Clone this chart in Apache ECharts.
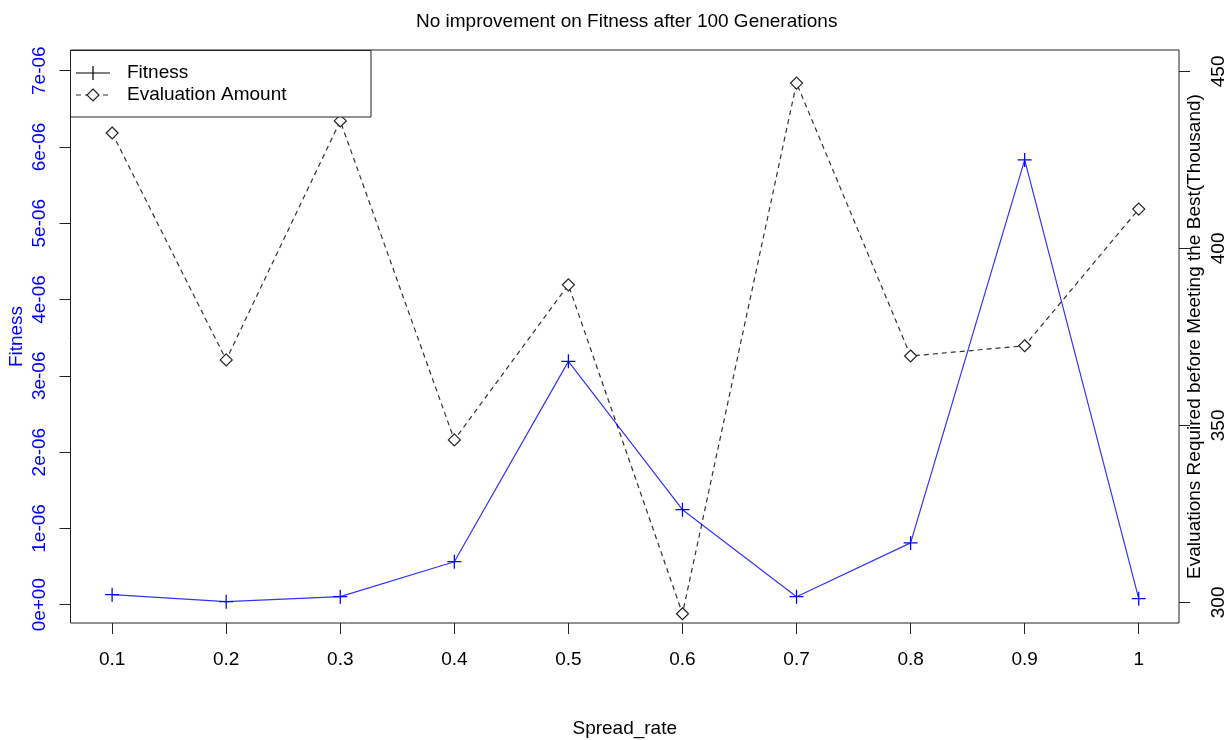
<!DOCTYPE html>
<html>
<head>
<meta charset="utf-8">
<script src="https://cdn.jsdelivr.net/npm/echarts@6/dist/echarts.min.js"></script>
<style>
html,body{margin:0;padding:0;background:#fff;}
#chart{width:1230px;height:740px;}
</style>
</head>
<body>
<div id="chart"></div>
<script>
const spreadRate = [0.1, 0.2, 0.3, 0.4, 0.5, 0.6, 0.7, 0.8, 0.9, 1.0];
const xTickLabels = ['0.1','0.2','0.3','0.4','0.5','0.6','0.7','0.8','0.9','1'];
const fitness = [0.131e-6, 0.04e-6, 0.105e-6, 0.563e-6, 3.19e-6, 1.245e-6, 0.105e-6, 0.81e-6, 5.83e-6, 0.079e-6];
const evaluations = [432.6, 368.5, 436.0, 345.9, 389.7, 296.8, 446.7, 369.6, 372.5, 411.1];
const fitnessTicks = [0, 1e-6, 2e-6, 3e-6, 4e-6, 5e-6, 6e-6, 7e-6];
const fitnessTickLabels = ['0e+00','1e-06','2e-06','3e-06','4e-06','5e-06','6e-06','7e-06'];
const evalTicks = [300, 350, 400, 450];
const evalTickLabels = ['300','350','400','450'];

const FONT = '"Liberation Sans", Arial, sans-serif';
const FS = 19;
const BLUE = '#0000ff';
const plusPath = 'path://M-1,-0.09L1,-0.09L1,0.09L-1,0.09Z M-0.09,-1L0.09,-1L0.09,1L-0.09,1Z';

const chart = echarts.init(document.getElementById('chart'), null, {renderer: 'canvas'});

function labelFromTicks(ticks, labels) {
  return function (v) {
    for (let i = 0; i < ticks.length; i++) {
      if (Math.abs(ticks[i] - v) <= Math.abs(ticks[i]) * 1e-6 + 1e-12) return labels[i];
    }
    return '';
  };
}

const option = {
  backgroundColor: '#ffffff',
  animation: false,
  title: {
    text: 'No improvement on Fitness after 100 Generations',
    left: 411,
    top: 7,
    textStyle: {fontFamily: FONT, fontSize: FS, fontWeight: 'normal', color: '#000'}
  },
  grid: {
    left: 70.5, right: 51, top: 50, bottom: 117,
    show: true, borderColor: '#222', borderWidth: 1, backgroundColor: 'transparent',
    containLabel: false,
    outerBoundsMode: 'none'
  },
  xAxis: {
    type: 'value',
    min: 0.0635, max: 1.0353,
    name: 'Spread_rate',
    nameLocation: 'middle',
    nameGap: 96,
    nameMoveOverlap: false,
    nameTextStyle: {fontFamily: FONT, fontSize: FS, color: '#000'},
    axisLine: {show: false, onZero: false},
    splitLine: {show: false},
    axisTick: {show: true, length: 11, customValues: spreadRate, lineStyle: {color: '#222'}},
    axisLabel: {
      show: true, margin: 27, customValues: spreadRate,
      fontFamily: FONT, fontSize: FS, color: '#000',
      formatter: labelFromTicks(spreadRate, xTickLabels)
    }
  },
  yAxis: [
    {
      type: 'value',
      position: 'left',
      min: -0.24e-6, max: 7.271e-6,
      name: 'Fitness',
      nameLocation: 'middle',
      nameRotate: 90,
      nameGap: 44,
      nameMoveOverlap: false,
      nameTextStyle: {fontFamily: FONT, fontSize: FS, color: BLUE},
      axisLine: {show: false, onZero: false},
      splitLine: {show: false},
      axisTick: {show: true, length: 11, customValues: fitnessTicks, lineStyle: {color: '#222'}},
      axisLabel: {
        show: true, rotate: 90, margin: 21, customValues: fitnessTicks,
        fontFamily: FONT, fontSize: FS, color: BLUE,
        formatter: labelFromTicks(fitnessTicks, fitnessTickLabels)
      }
    },
    {
      type: 'value',
      position: 'right',
      min: 294.18, max: 456.04,
      name: 'Evaluations Required before Meeting the Best(Thousand)',
      nameLocation: 'middle',
      nameRotate: 90,
      nameGap: 6,
      nameMoveOverlap: false,
      nameTextStyle: {fontFamily: FONT, fontSize: FS, color: '#000'},
      axisLine: {show: false, onZero: false},
      splitLine: {show: false},
      axisTick: {show: true, length: 11, customValues: evalTicks, lineStyle: {color: '#222'}},
      axisLabel: {
        show: true, rotate: 90, margin: 30, customValues: evalTicks,
        fontFamily: FONT, fontSize: FS, color: '#000',
        formatter: labelFromTicks(evalTicks, evalTickLabels)
      }
    }
  ],
  series: [
    {
      name: 'Evaluation Amount',
      type: 'line',
      yAxisIndex: 1,
      data: spreadRate.map((x, i) => [x, evaluations[i]]),
      symbol: 'diamond',
      symbolSize: 12,
      lineStyle: {color: '#333', width: 1.2, type: [5, 4]},
      itemStyle: {color: '#fff', borderColor: '#222', borderWidth: 1.2},
      z: 2
    },
    {
      name: 'Fitness',
      type: 'line',
      yAxisIndex: 0,
      data: spreadRate.map((x, i) => [x, fitness[i]]),
      symbol: plusPath,
      symbolSize: 14,
      lineStyle: {color: BLUE, width: 1.2, opacity: 0.8},
      itemStyle: {color: BLUE, borderWidth: 0},
      z: 3
    }
  ],
  graphic: [
    {type: 'rect', z: 100, shape: {x: 70.5, y: 50.5, width: 300.5, height: 66.5},
      style: {fill: '#fff', stroke: '#222', lineWidth: 1}},
    {type: 'line', z: 101, shape: {x1: 76, y1: 73, x2: 110, y2: 73}, style: {stroke: '#000', lineWidth: 1.2}},
    {type: 'line', z: 101, shape: {x1: 93, y1: 66, x2: 93, y2: 80}, style: {stroke: '#000', lineWidth: 1.2}},
    {type: 'text', z: 101, x: 127, y: 73, style: {text: 'Fitness', font: FS + 'px ' + FONT, fill: '#000', verticalAlign: 'middle'}},
    {type: 'line', z: 101, shape: {x1: 76, y1: 95, x2: 110, y2: 95}, style: {stroke: '#333', lineWidth: 1.2, lineDash: [5, 4]}},
    {type: 'polygon', z: 101, shape: {points: [[93, 89], [99, 95], [93, 101], [87, 95]]}, style: {fill: '#fff', stroke: '#222', lineWidth: 1.2}},
    {type: 'text', z: 101, x: 127, y: 95, style: {text: 'Evaluation Amount', font: FS + 'px ' + FONT, fill: '#000', verticalAlign: 'middle'}}
  ]
};
chart.setOption(option);
</script>
</body>
</html>
